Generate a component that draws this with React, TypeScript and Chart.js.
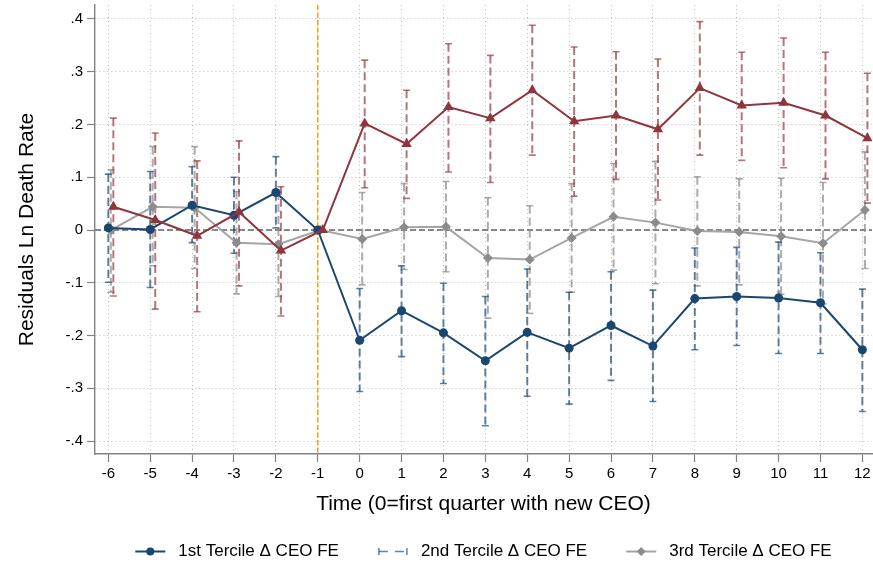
import React, { useEffect, useRef } from "react";
import Chart from "chart.js/auto";
import type { Plugin } from "chart.js";

// ---- data ----
const PERIODS = [-6, -5, -4, -3, -2, -1, 0, 1, 2, 3, 4, 5, 6, 7, 8, 9, 10, 11, 12];
const X_TICKS = PERIODS;
const Y_TICKS = [-0.4, -0.3, -0.2, -0.1, 0, 0.1, 0.2, 0.3, 0.4];

// navy, circles
const NAVY_EST = [0.004, 0.001, 0.047, 0.028, 0.071, 0, -0.209, -0.153, -0.195, -0.248, -0.194, -0.224, -0.181, -0.22, -0.13, -0.126, -0.129, -0.138, -0.227];
const NAVY_HI = [0.106, 0.111, 0.12, 0.1, 0.139, null, -0.111, -0.068, -0.101, -0.126, -0.074, -0.118, -0.079, -0.114, -0.034, -0.033, -0.023, -0.043, -0.112];
const NAVY_LO = [-0.099, -0.109, -0.024, -0.044, 0.004, null, -0.306, -0.24, -0.291, -0.371, -0.315, -0.33, -0.285, -0.325, -0.227, -0.219, -0.234, -0.234, -0.344];

// maroon, triangles
const MAROON_EST = [0.044, 0.019, -0.011, 0.034, -0.039, 0, 0.202, 0.163, 0.233, 0.212, 0.265, 0.206, 0.217, 0.191, 0.269, 0.236, 0.241, 0.217, 0.174];
const MAROON_HI = [0.212, 0.184, 0.131, 0.169, 0.082, null, 0.322, 0.265, 0.353, 0.331, 0.388, 0.347, 0.338, 0.324, 0.395, 0.337, 0.364, 0.337, 0.297];
const MAROON_LO = [-0.125, -0.15, -0.155, -0.106, -0.163, null, 0.08, 0.06, 0.11, 0.09, 0.142, 0.064, 0.096, 0.057, 0.142, 0.132, 0.118, 0.097, 0.051];

// gray, diamonds
const GRAY_EST = [0.0, 0.044, 0.042, -0.024, -0.027, 0, -0.017, 0.005, 0.006, -0.053, -0.056, -0.015, 0.025, 0.014, -0.002, -0.004, -0.012, -0.025, 0.038];
const GRAY_HI = [0.114, 0.158, 0.158, 0.073, 0.072, null, 0.071, 0.088, 0.092, 0.061, 0.046, 0.088, 0.126, 0.13, 0.101, 0.097, 0.098, 0.09, 0.148];
const GRAY_LO = [-0.118, -0.068, -0.073, -0.121, -0.126, null, -0.104, -0.075, -0.079, -0.167, -0.158, -0.118, -0.076, -0.102, -0.106, -0.104, -0.122, -0.14, -0.073];

const LEGEND_LABELS = ["1st Tercile \u0394 CEO FE", "2nd Tercile \u0394 CEO FE", "3rd Tercile \u0394 CEO FE"];
const Y_TITLE = "Residuals Ln Death Rate";
const X_TITLE = "Time (0=first quarter with new CEO)";
const EVENT_PERIOD = -1;

// ---- styles ----
const FONT = "'Liberation Sans', Arial, sans-serif";
const NAVY = "rgb(26,71,111)";
const MAROON = "rgb(144,53,59)";
const GRAY_LINE = "rgb(165,165,165)";
const GRAY_MARK = "rgb(140,140,140)";
const NAVY_BAR = "rgba(26,71,111,0.68)";
const MAROON_BAR = "rgba(144,53,59,0.68)";
const GRAY_BAR = "rgba(140,140,140,0.72)";
const GRID = "rgba(170,170,170,0.8)";
const AXIS = "rgb(130,130,130)";
const ORANGE = "rgb(240,160,20)";

// small horizontal offsets so the series don't sit on top of each other
const OFF_NAVY = 0;
const OFF_GRAY = 0.06;
const OFF_MAROON = 0.12;

const pts = (est: number[], off: number) => PERIODS.map((p, i) => ({ x: p + off, y: est[i] }));

type Bars = { lo: (number | null)[]; hi: (number | null)[]; off: number; color: string };
const BARS: Bars[] = [
  { lo: GRAY_LO, hi: GRAY_HI, off: OFF_GRAY, color: GRAY_BAR },
  { lo: NAVY_LO, hi: NAVY_HI, off: OFF_NAVY, color: NAVY_BAR },
  { lo: MAROON_LO, hi: MAROON_HI, off: OFF_MAROON, color: MAROON_BAR },
];

export default function App() {
  const canvasRef = useRef<HTMLCanvasElement | null>(null);

  useEffect(() => {
    const ctx = canvasRef.current?.getContext("2d");
    if (!ctx) return;

    // reference lines + dashed capped error bars, under the connected lines
    const underlay: Plugin<"scatter"> = {
      id: "underlay",
      beforeDatasetsDraw(c) {
        const { ctx, chartArea } = c;
        const xs: any = c.scales.x;
        const ys: any = c.scales.y;
        ctx.save();
        // y = 0
        ctx.strokeStyle = "rgb(100,100,100)";
        ctx.lineWidth = 1.5;
        ctx.setLineDash([6, 3]);
        const y0 = ys.getPixelForValue(0);
        ctx.beginPath();
        ctx.moveTo(chartArea.left, y0);
        ctx.lineTo(chartArea.right, y0);
        ctx.stroke();
        // event line
        ctx.strokeStyle = ORANGE;
        ctx.lineWidth = 1.5;
        ctx.setLineDash([5, 2.5]);
        const xe = xs.getPixelForValue(EVENT_PERIOD);
        ctx.beginPath();
        ctx.moveTo(xe, chartArea.top);
        ctx.lineTo(xe, chartArea.bottom);
        ctx.stroke();

        BARS.forEach((b) => {
          ctx.strokeStyle = b.color;
          PERIODS.forEach((p, i) => {
            const lo = b.lo[i];
            const hi = b.hi[i];
            if (lo == null || hi == null) return;
            const px = xs.getPixelForValue(p + b.off);
            const pt = ys.getPixelForValue(hi);
            const pb = ys.getPixelForValue(lo);
            ctx.lineWidth = 2;
            ctx.setLineDash([8, 4]);
            ctx.beginPath();
            ctx.moveTo(px, pt);
            ctx.lineTo(px, pb);
            ctx.stroke();
            ctx.setLineDash([]);
            ctx.lineWidth = 1.6;
            ctx.beginPath();
            ctx.moveTo(px - 3.5, pt);
            ctx.lineTo(px + 3.5, pt);
            ctx.moveTo(px - 3.5, pb);
            ctx.lineTo(px + 3.5, pb);
            ctx.stroke();
          });
        });
        ctx.restore();
      },
    };

    // Stata-like legend along the bottom
    const legend: Plugin<"scatter"> = {
      id: "stataLegend",
      afterDraw(c) {
        const { ctx, chartArea } = c;
        ctx.save();
        ctx.font = `17px ${FONT}`;
        const symW = 30;
        const gapSym = 13;
        const gapItem = 39;
        const widths = LEGEND_LABELS.map((t) => ctx.measureText(t).width);
        const total = widths.reduce((a, b) => a + b, 0) + LEGEND_LABELS.length * (symW + gapSym) + (LEGEND_LABELS.length - 1) * gapItem;
        let x = (chartArea.left + chartArea.right) / 2 - total / 2;
        const y = c.height - 11.5;
        LEGEND_LABELS.forEach((label, i) => {
          const cx = x + symW / 2;
          if (i === 0) {
            ctx.strokeStyle = NAVY;
            ctx.lineWidth = 2;
            ctx.beginPath();
            ctx.moveTo(x, y);
            ctx.lineTo(x + symW, y);
            ctx.stroke();
            ctx.fillStyle = NAVY;
            ctx.beginPath();
            ctx.arc(cx, y, 4, 0, Math.PI * 2);
            ctx.fill();
          } else if (i === 1) {
            ctx.strokeStyle = NAVY_BAR;
            ctx.lineWidth = 1.5;
            ctx.setLineDash([9, 7]);
            ctx.beginPath();
            ctx.moveTo(x + 1, y);
            ctx.lineTo(x + symW, y);
            ctx.stroke();
            ctx.setLineDash([]);
            ctx.beginPath();
            ctx.moveTo(x + 1, y - 3.5);
            ctx.lineTo(x + 1, y + 3.5);
            ctx.moveTo(x + symW - 1, y - 3.5);
            ctx.lineTo(x + symW - 1, y + 3.5);
            ctx.stroke();
          } else {
            ctx.strokeStyle = GRAY_LINE;
            ctx.lineWidth = 2;
            ctx.beginPath();
            ctx.moveTo(x, y);
            ctx.lineTo(x + symW, y);
            ctx.stroke();
            ctx.fillStyle = GRAY_MARK;
            ctx.beginPath();
            ctx.moveTo(cx, y - 4.5);
            ctx.lineTo(cx + 4.5, y);
            ctx.lineTo(cx, y + 4.5);
            ctx.lineTo(cx - 4.5, y);
            ctx.closePath();
            ctx.fill();
          }
          ctx.fillStyle = "#000";
          ctx.textBaseline = "middle";
          ctx.textAlign = "left";
          ctx.fillText(label, x + symW + gapSym, y);
          x += symW + gapSym + widths[i] + gapItem;
        });
        ctx.restore();
      },
    };

    const yFmt = (v: number) => (Math.abs(v) < 1e-9 ? "0" : v.toFixed(1).replace("0.", "."));

    const chart = new Chart(ctx, {
      type: "scatter",
      data: {
        datasets: [
          {
            label: LEGEND_LABELS[0],
            data: pts(NAVY_EST, OFF_NAVY),
            showLine: true,
            borderColor: NAVY,
            backgroundColor: NAVY,
            borderWidth: 2,
            pointStyle: "circle",
            pointRadius: 4.5,
            pointBorderWidth: 0,
            order: 1,
          },
          {
            label: "maroon",
            data: pts(MAROON_EST, OFF_MAROON),
            showLine: true,
            borderColor: MAROON,
            backgroundColor: MAROON,
            borderWidth: 2,
            pointStyle: "triangle",
            pointRadius: 6,
            pointBorderWidth: 0,
            order: 0,
          },
          {
            label: LEGEND_LABELS[2],
            data: pts(GRAY_EST, OFF_GRAY),
            showLine: true,
            borderColor: GRAY_LINE,
            backgroundColor: GRAY_MARK,
            borderWidth: 2,
            pointStyle: "rectRot",
            pointRadius: 5,
            pointBorderWidth: 0,
            order: 2,
          },
        ],
      },
      options: {
        animation: false,
        responsive: true,
        maintainAspectRatio: false,
        events: [],
        layout: { autoPadding: false, padding: { left: 0, right: 1, top: 5, bottom: 0 } },
        plugins: { legend: { display: false }, tooltip: { enabled: false } },
        scales: {
          x: {
            type: "linear",
            min: -6.318,
            max: 12.23,
            afterBuildTicks: (s: any) => {
              s.ticks = X_TICKS.map((v) => ({ value: v }));
            },
            afterFit: (s: any) => {
              s.height = 109;
              s.paddingLeft = 0;
              s.paddingRight = 0;
            },
            ticks: {
              color: "#000",
              font: { size: 15, family: FONT },
              padding: 3,
              maxRotation: 0,
              autoSkip: false,
              callback: (v: any) => String(v),
            },
            grid: { color: GRID, lineWidth: 1, tickLength: 8, tickColor: AXIS, tickWidth: 1.2 },
            border: { color: AXIS, width: 1.4, dash: [1, 3] },
            title: {
              display: true,
              text: X_TITLE,
              color: "#000",
              font: { size: 21, family: FONT },
              padding: { top: 0, bottom: 46 },
            },
          },
          y: {
            type: "linear",
            min: -0.4246,
            max: 0.4265,
            afterBuildTicks: (s: any) => {
              s.ticks = Y_TICKS.map((v) => ({ value: v }));
            },
            afterFit: (s: any) => {
              s.width = 95;
              s.paddingTop = 0;
              s.paddingBottom = 0;
            },
            ticks: {
              color: "#000",
              font: { size: 15, family: FONT },
              padding: 4,
              callback: (v: any) => yFmt(Number(v)),
            },
            grid: { color: GRID, lineWidth: 1, tickLength: 8, tickColor: AXIS, tickWidth: 1.2 },
            border: { color: AXIS, width: 1.4, dash: [1, 3] },
            title: {
              display: true,
              text: Y_TITLE,
              color: "#000",
              font: { size: 21, family: FONT },
              padding: { top: 15, bottom: 0 },
            },
          },
        },
      },
      plugins: [underlay, legend],
    });

    return () => {
      chart.destroy();
    };
  }, []);

  return (
    <div style={{ position: "absolute", left: 0, top: 0, width: 873, height: 563, background: "#fff" }}>
      <canvas ref={canvasRef} />
    </div>
  );
}
